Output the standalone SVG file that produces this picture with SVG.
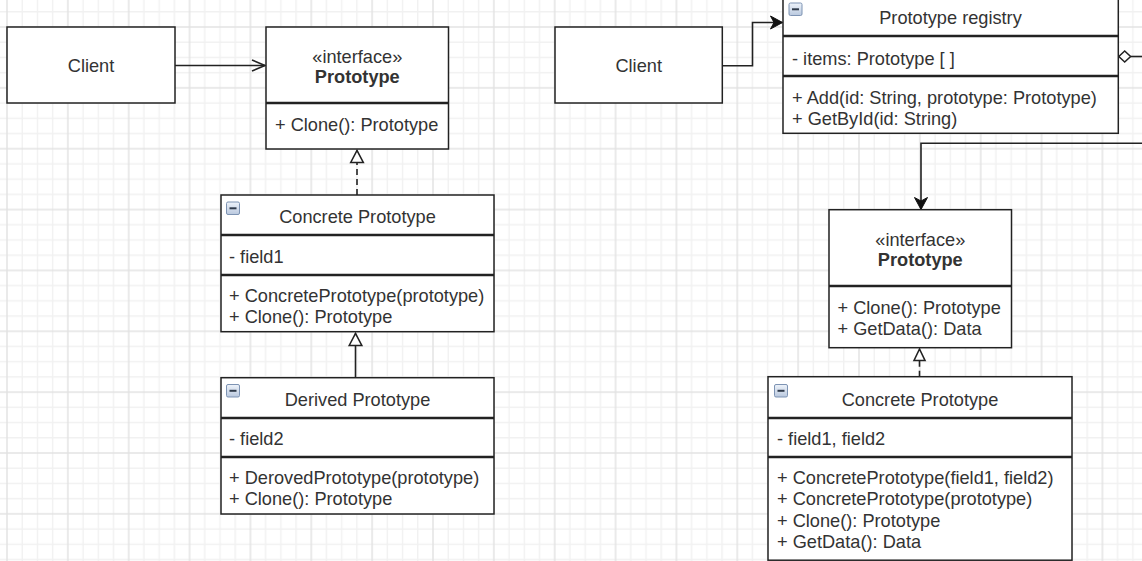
<svg xmlns="http://www.w3.org/2000/svg" width="1142" height="561" viewBox="0 0 1142 561">
<style>
.box{fill:#ffffff;stroke:#222222;stroke-width:1.5}
.div{stroke:#222222;stroke-width:2.4;fill:none}
.t{font-family:"Liberation Sans",Arial,sans-serif;font-size:18.2px;fill:#333333}
.c{text-anchor:middle}
.b{font-weight:bold}
.edge{fill:none;stroke:#222222;stroke-width:1.6}
.dash{stroke-dasharray:6 4}
.icon rect{fill:url(#ig);stroke:#7d93b3;stroke-width:1}
.icon line{stroke:#2f3a4a;stroke-width:2}
</style>
<defs>
<pattern id="grid" patternUnits="userSpaceOnUse" x="6" y="26" width="60.857" height="60.857">
<path d="M16.21 0V60.857M31.43 0V60.857M46.64 0V60.857M0 16.21H60.857M0 31.43H60.857M0 46.64H60.857" stroke="#f1f1f1" stroke-width="1.4" fill="none"/>
<path d="M1 0V60.857M0 1H60.857" stroke="#e3e3e3" stroke-width="1.5" fill="none"/>
</pattern>
<linearGradient id="ig" x1="0" y1="0" x2="0" y2="1">
<stop offset="0" stop-color="#eef3fa"/>
<stop offset="1" stop-color="#b9c8de"/>
</linearGradient>
<marker id="open" markerUnits="userSpaceOnUse" markerWidth="16" markerHeight="14" refX="13" refY="6" orient="auto" overflow="visible">
<path d="M0,0.5 L13,6 L0,11.5" fill="none" stroke="#222222" stroke-width="1.6"/>
</marker>
<marker id="tri" markerUnits="userSpaceOnUse" markerWidth="14" markerHeight="14" refX="12" refY="6.3" orient="auto" overflow="visible">
<path d="M0,0 L12,6.3 L0,12.6 Z" fill="#ffffff" stroke="#222222" stroke-width="1.6"/>
</marker>
<marker id="tri2" markerUnits="userSpaceOnUse" markerWidth="14" markerHeight="14" refX="11.5" refY="5.5" orient="auto" overflow="visible">
<path d="M0,0 L11.5,5.5 L0,11 Z" fill="#ffffff" stroke="#222222" stroke-width="1.6"/>
</marker>
<marker id="block" markerUnits="userSpaceOnUse" markerWidth="14" markerHeight="14" refX="12" refY="6.5" orient="auto" overflow="visible">
<path d="M0,0 L12,6.5 L0,13 L3.5,6.5 Z" fill="#111111" stroke="#111111" stroke-width="1"/>
</marker>
</defs>
<rect x="0" y="0" width="1142" height="561" fill="#ffffff"/>
<rect x="0" y="0" width="1142" height="561" fill="url(#grid)"/>

<g id="connectors">
<path class="edge" d="M175 65.5 H265" marker-end="url(#open)"/>
<path class="edge dash" d="M357 195 V150.5" marker-end="url(#tri)"/>
<path class="edge" d="M355.5 377.7 V333.5" marker-end="url(#tri)"/>
<path class="edge" d="M722.3 65.7 H752.5 V22.5 H782.5" marker-end="url(#block)"/>
<path class="edge" d="M1130.5 56.5 H1142"/>
<path d="M1118.8 56.5 L1124.7 51 L1130.6 56.5 L1124.7 62 Z" fill="#ffffff" stroke="#222222" stroke-width="1.5"/>
<path class="edge" d="M1142 143.3 H921 V209.5" marker-end="url(#block)"/>
<path class="edge dash" d="M919.5 376.7 V349" marker-end="url(#tri2)"/>
</g>

<g id="client1">
<rect class="box" x="7" y="27" width="168" height="76"/>
<text class="t c" x="91" y="71.5">Client</text>
</g>

<g id="prototype1">
<rect class="box" x="266" y="27" width="182.5" height="122"/>
<line class="div" x1="266" y1="103" x2="448.5" y2="103"/>
<text class="t c" x="357.3" y="63">«interface»</text>
<text class="t c b" x="357.3" y="83">Prototype</text>
<text class="t" x="275" y="131">+ Clone(): Prototype</text>
</g>

<g id="concrete1">
<rect class="box" x="221" y="195" width="273" height="136.7"/>
<line class="div" x1="221" y1="235" x2="494" y2="235"/>
<line class="div" x1="221" y1="275" x2="494" y2="275"/>
<g class="icon"><rect x="226.5" y="202" width="13" height="12.5" rx="1.5"/><line x1="229.5" y1="208.3" x2="236.5" y2="208.3"/></g>
<text class="t c" x="357.5" y="223">Concrete Prototype</text>
<text class="t" x="229" y="263">- field1</text>
<text class="t" x="229" y="301.5">+ ConcretePrototype(prototype)</text>
<text class="t" x="229" y="322.5">+ Clone(): Prototype</text>
</g>

<g id="derived1">
<rect class="box" x="221" y="377.7" width="273" height="136.3"/>
<line class="div" x1="221" y1="418" x2="494" y2="418"/>
<line class="div" x1="221" y1="457" x2="494" y2="457"/>
<g class="icon"><rect x="226.5" y="384.5" width="13" height="12.5" rx="1.5"/><line x1="229.5" y1="390.8" x2="236.5" y2="390.8"/></g>
<text class="t c" x="357.5" y="405.5">Derived Prototype</text>
<text class="t" x="229" y="444.5">- field2</text>
<text class="t" x="229" y="483.5">+ DerovedPrototype(prototype)</text>
<text class="t" x="229" y="505">+ Clone(): Prototype</text>
</g>

<g id="client2">
<rect class="box" x="555" y="27" width="167.3" height="76"/>
<text class="t c" x="638.7" y="71.5">Client</text>
</g>

<g id="registry">
<rect class="box" x="783" y="-4" width="335.3" height="137.3"/>
<line class="div" x1="783" y1="36" x2="1118.3" y2="36"/>
<line class="div" x1="783" y1="76" x2="1118.3" y2="76"/>
<g class="icon"><rect x="789" y="3" width="13" height="12.5" rx="1.5"/><line x1="792" y1="9.3" x2="799" y2="9.3"/></g>
<text class="t c" x="950.5" y="24">Prototype registry</text>
<text class="t" x="792" y="64.5">- items: Prototype [ ]</text>
<text class="t" x="792" y="104">+ Add(id: String, prototype: Prototype)</text>
<text class="t" x="792" y="125">+ GetById(id: String)</text>
</g>

<g id="prototype2">
<rect class="box" x="829" y="209.7" width="182.5" height="138"/>
<line class="div" x1="829" y1="286" x2="1011.5" y2="286"/>
<text class="t c" x="920.3" y="245.5">«interface»</text>
<text class="t c b" x="920.3" y="265.5">Prototype</text>
<text class="t" x="837.5" y="313.5">+ Clone(): Prototype</text>
<text class="t" x="837.5" y="334.5">+ GetData(): Data</text>
</g>

<g id="concrete2">
<rect class="box" x="768" y="376.7" width="304" height="183.5"/>
<line class="div" x1="768" y1="418" x2="1072" y2="418"/>
<line class="div" x1="768" y1="457" x2="1072" y2="457"/>
<g class="icon"><rect x="774.5" y="384.5" width="13" height="12.5" rx="1.5"/><line x1="777.5" y1="390.8" x2="784.5" y2="390.8"/></g>
<text class="t c" x="920" y="405.5">Concrete Prototype</text>
<text class="t" x="777" y="444.5">- field1, field2</text>
<text class="t" x="777" y="484">+ ConcretePrototype(field1, field2)</text>
<text class="t" x="777" y="505.3">+ ConcretePrototype(prototype)</text>
<text class="t" x="777" y="526.5">+ Clone(): Prototype</text>
<text class="t" x="777" y="547.5">+ GetData(): Data</text>
</g>
</svg>
